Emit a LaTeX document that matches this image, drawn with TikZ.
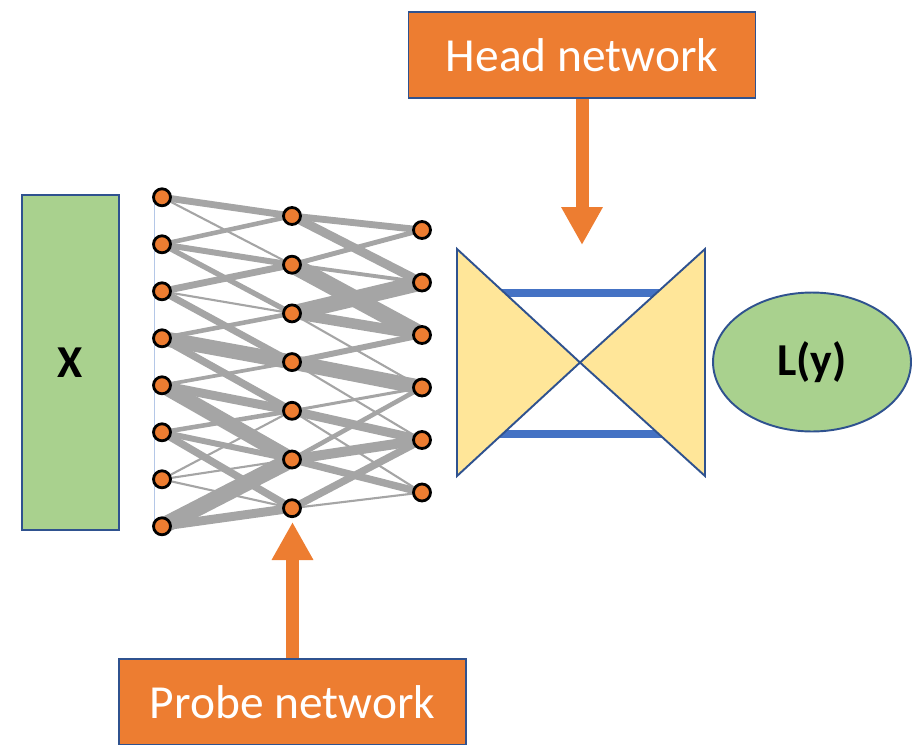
\documentclass[tikz,border=0pt]{standalone}
\usepackage{fontspec}
\setmainfont{Carlito}
\usetikzlibrary{shapes.geometric,arrows.meta,backgrounds}
\definecolor{orng}{HTML}{ED7D31}
\definecolor{dblue}{HTML}{2F528F}
\definecolor{lgreen}{HTML}{A9D18E}
\definecolor{lyellow}{HTML}{FFE699}
\definecolor{wgray}{HTML}{A5A5A5}
\definecolor{bblue}{HTML}{4472C4}
\definecolor{gline}{HTML}{B4C7E7}
\tikzset{
  neuron/.style={circle,draw=black,line width=1.6pt,fill=orng,minimum size=0.34cm,inner sep=0pt},
  wire/.style={draw=wgray},
  netbox/.style={rectangle,draw=dblue,line width=0.9pt,fill=orng,text=white,
    font=\fontsize{27}{32}\selectfont,text depth=0pt,minimum width=6.94cm,minimum height=1.72cm},
  bigarrow/.style={draw=orng,line width=0.26cm,-{Triangle[width=0.78cm,length=0.76cm]}},
  tri/.style={draw=dblue,line width=1.1pt,fill=lyellow,line join=miter},
  bar/.style={draw=bblue,line width=4pt},
  boldlabel/.style={font=\fontsize{26}{31}\selectfont\bfseries},
}
\begin{document}
\begin{tikzpicture}[x=0.02cm,y=-0.02cm] % 1 unit = 1 px of the sketch
\useasboundingbox (0,0) rectangle (912,744);

\node[rectangle,draw=dblue,line width=1.1pt,fill=lgreen,minimum width=1.94cm,
  minimum height=6.7cm,boldlabel] (input) at (70.5,362.5) {X};

\foreach \i in {1,...,8} {
\node[neuron] (l\i) at (162,{150.3+47*\i}) {};
}
\foreach \i in {1,...,7} {
\node[neuron] (m\i) at (292,{167.3+48.7*\i}) {};
}
\foreach \i in {1,...,6} {
\node[neuron] (r\i) at (422,{177.5+52.5*\i}) {};
}

\begin{scope}[on background layer]
\draw[gline,line width=0.5pt] (154,197) -- (154,527);
\foreach \a/\b/\w in {1/1/3.9,1/2/1.2,2/1/2.6,2/2/3.4,2/3/3.0,3/2/3.9,3/3/1.2,3/4/3.9,
  4/3/2.6,4/4/8.5,4/5/4.2,5/4/2.1,5/5/5.1,5/6/8.5,6/5/2.6,6/6/3.4,6/7/4.2,
  7/5/1.2,7/6/1.2,7/7/1.2,8/6/9.3,8/7/5.1} {
\draw[wire,line width=\w pt] (l\a.center) -- (m\b.center);
}
\foreach \a/\b/\w in {1/1/3.9,1/2/5.1,2/1/2.8,2/2/2.2,2/3/9.6,3/2/9.0,3/3/6.0,3/4/1.2,
  4/3/3.4,4/4/8.5,4/5/1.2,5/4/1.7,5/5/5.1,5/6/1.2,6/4/2.6,6/5/5.7,6/6/4.2,
  7/5/4.2,7/6/1.2} {
\draw[wire,line width=\w pt] (m\a.center) -- (r\b.center);
}
\end{scope}

% head
\draw[bar] (490,293) -- (672,293);
\draw[bar] (490,434) -- (672,434);
\draw[tri] (457,249) -- (457,476) -- (580,362.5) -- cycle;
\draw[tri] (705,249) -- (705,476) -- (580,362.5) -- cycle;

\node[ellipse,draw=dblue,line width=1.1pt,fill=lgreen,minimum width=3.96cm,
  minimum height=2.78cm,boldlabel] (loss) at (812,362) {L(y)};

\node[netbox] (head) at (582,55) {Head network};
\node[netbox] (probe) at (292.5,702) {Probe network};
\coordinate (headtip) at (582,245);
\coordinate (probetip) at (292.5,522);
\begin{scope}[on background layer]
\draw[bigarrow] (head) -- (headtip);
\draw[bigarrow] (probe) -- (probetip);
\end{scope}
\end{tikzpicture}
\end{document}
